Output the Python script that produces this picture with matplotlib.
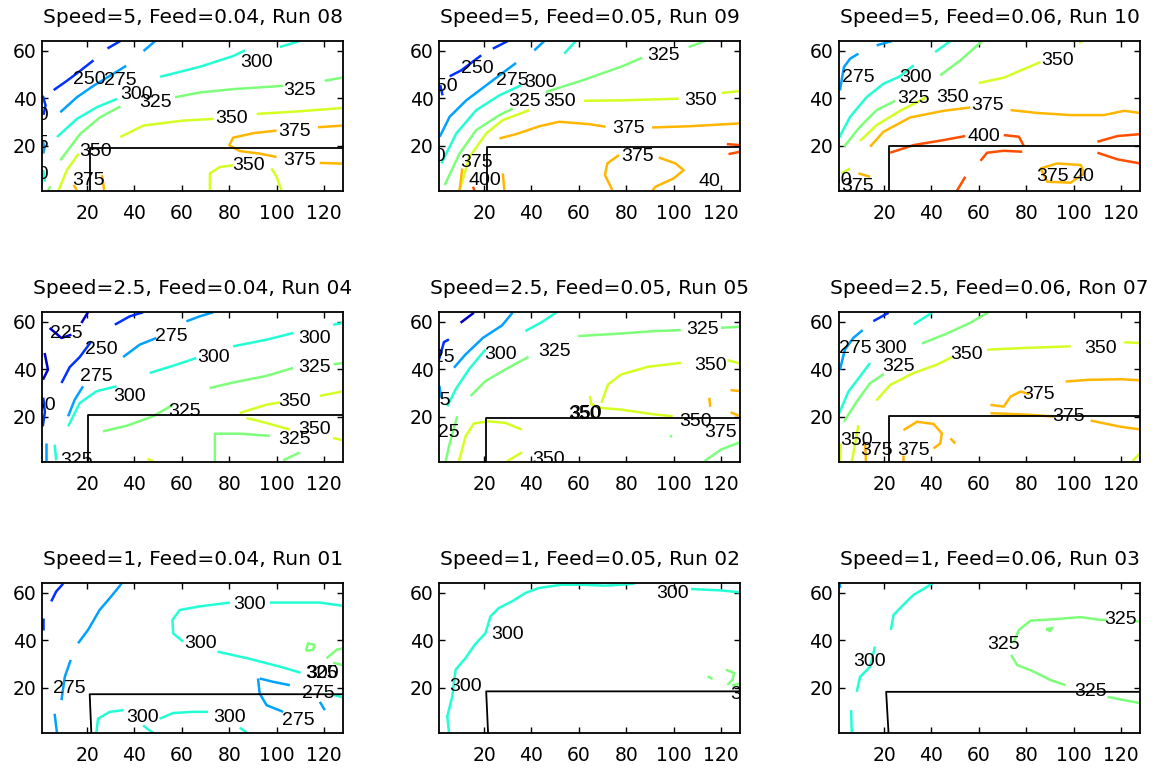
import numpy as np
import matplotlib
matplotlib.use("Agg")
import matplotlib.pyplot as plt
from matplotlib import colors

plt.rcParams['font.family'] = ['Liberation Sans', 'DejaVu Sans']

# titles in panel order (rows top to bottom, left to right)
titles = ["Speed=5, Feed=0.04, Run 08", "Speed=5, Feed=0.05, Run 09", "Speed=5, Feed=0.06, Run 10",
          "Speed=2.5, Feed=0.04, Run 04", "Speed=2.5, Feed=0.05, Run 05", "Speed=2.5, Feed=0.06, Ron 07",
          "Speed=1, Feed=0.04, Run 01", "Speed=1, Feed=0.05, Run 02", "Speed=1, Feed=0.06, Run 03"]

# notch outline per panel: x at top, x at bottom, y of horizontal edge
notches = [(21.3, 21.3, 19.2), (21.2, 21.2, 19.6), (21.9, 21.9, 19.9),
           (20.4, 20.4, 20.6), (20.9, 20.9, 19.3), (21.9, 21.9, 20.5),
           (21.1, 21.8, 17.3), (20.9, 21.7, 18.5), (20.9, 21.9, 18.3)]

# contour traces: (level, xs, ys)
run08_lines = [
    (250, [5.9, 11.5, 17.1, 22.7], [43.4, 47.3, 51.5, 55.9]),
    (250, [28.6, 34], [60.9, 64]),
    (250, [1.3, 2.5, 1.6], [41, 37, 33]),
    (275, [8.7, 15.7, 22.7, 29.8, 36.5], [34.1, 40.4, 45.2, 49.5, 53.6]),
    (275, [43.8, 48.7], [59.8, 64]),
    (275, [1.3, 2.0, 1.5], [22.3, 19, 16.7]),
    (300, [7.3, 15.7, 24.1, 32.6], [23.7, 31.3, 36.2, 39.7]),
    (300, [50.8, 67.6, 81.6, 86.6], [49, 53.2, 57.7, 60.1]),
    (300, [101.3, 109.7], [61.5, 64]),
    (300, [1.5, 2.2], [9.8, 4.9]),
    (325, [8.7, 17.1, 25.5, 34], [13.9, 25, 32, 36.5]),
    (325, [57.1, 67.6, 81.6, 102.7], [40.4, 42.4, 43.8, 45.2]),
    (325, [120.2, 128], [47.3, 48.7]),
    (325, [3.5, 4.5], [1, 3]),
    (350, [34, 43.8, 60.6, 73.2], [23.7, 28.5, 30.6, 31.3]),
    (350, [91.5, 109.7, 128], [33.4, 34.5, 35.9]),
    (350, [8, 11.5, 16.4], [1.4, 9.8, 16.7]),
    (350, [71.8, 71.8, 76, 81.6], [1.4, 8.4, 11.1, 11.8]),
    (350, [97.8, 99.9, 102], [10.5, 7, 1.4]),
    (375, [128, 117.4], [28.5, 27.8]),
    (375, [99.9, 90.1, 81.6, 80, 84.4, 92.9, 99.9], [26.4, 25.3, 23.4, 20.2, 17.8, 16.7, 15.3]),
    (375, [118.1, 128], [12.8, 12.5]),
    (375, [14.3, 15.7], [3.5, 1.4]),
    (375, [26.3, 27.2], [7.7, 1.4]),
]
run08_labels = [("250", 21, 48), ("275", 34, 47.3), ("300", 41, 41.5), ("325", 48.7, 38.3),
                ("300", 91.5, 55), ("325", 109.7, 43.1), ("350", 80.9, 31.3), ("375", 107.6, 25.8),
                ("375", 109.7, 13.9), ("350", 88, 11.8), ("350", 23.4, 17.4), ("375", 20.6, 5.6),
                ("300", -3, 32.7), ("275", -3, 21), ("300", -3, 8)]

run09_lines = [
    (250, [23.7, 30], [60.8, 64]),
    (250, [5.5, 10.4, 18.8], [49.2, 51.7, 58]),
    (250, [1.5, 2.5], [45.5, 41.2]),
    (275, [1.3, 5.5, 12.5, 20.9, 26.5, 33.5], [23.8, 32.2, 39.1, 45.4, 49.6, 54.8]),
    (275, [41.2, 45.4], [60.1, 64]),
    (300, [2, 8.3, 16.7, 26.5, 35.6], [12.6, 25.2, 35, 41.2, 45.4]),
    (300, [53.8, 58.7], [58.7, 64]),
    (325, [3.4, 9.7, 16.7, 26.5, 32.1], [3.5, 16.8, 26.6, 32.9, 35.6]),
    (325, [46.1, 61.5, 78.3, 86.7], [42.6, 47.5, 53.4, 57]),
    (325, [106.3, 113.3], [61.5, 64]),
    (350, [9.7, 13.9, 20.9, 27.9, 39.1], [1.4, 15.4, 25.2, 30.8, 35]),
    (350, [62.2, 78.3, 102.1], [38.9, 39.1, 39.8]),
    (350, [120.3, 128], [42.2, 43]),
    (375, [26.5, 33.5, 43.3, 51.7, 64.3, 71.3], [23.1, 24.9, 28.2, 30.1, 29.1, 28]),
    (375, [90.9, 106.3, 128], [27.7, 28.2, 29.4]),
    (375, [74.1, 71, 72, 76.9], [1.4, 7.7, 12.6, 16.1]),
    (375, [93.7, 100.7, 104.2, 100, 92.3, 90.9], [15.1, 12.6, 9.8, 6.3, 2.8, 1]),
    (375, [9.7, 10.8], [1.4, 10.5]),
    (375, [27.9, 28.6], [8.4, 1.2]),
    (400, [15.3, 16], [2.8, 1.2]),
    (400, [122.4, 128], [20.7, 20.3]),
    (400, [123.1, 128], [16.5, 17.5]),
]
run09_labels = [("250", 17, 52.3), ("250", 2, 45), ("275", 32.1, 47.5), ("300", 44, 46.8),
                ("325", 37, 38.4), ("350", 51.7, 38.4), ("325", 95.8, 58), ("350", 111.2, 39.1),
                ("375", 81.1, 27.3), ("375", 84.6, 15.4), ("375", 16.7, 12.9), ("400", 20.2, 5.6),
                ("300", -3, 15.4), ("40", 115, 5)]

run10_lines = [
    (275, [1.4, 3.1, 5.7, 9.2], [43.3, 53.1, 56.6, 58.7]),
    (275, [16.9, 23.3], [62.2, 64]),
    (300, [1.1, 5.7, 12.7, 19.8, 26.8, 32.5], [23.5, 32.2, 40.5, 46.1, 49.2, 53.8]),
    (300, [41.6, 48], [59.4, 64]),
    (325, [3.1, 9.9, 16.9, 24.7], [19.6, 28, 35, 38.9]),
    (325, [43.7, 52.2, 61.4], [49.6, 55.9, 64]),
    (350, [9.9, 16.9, 26.8, 38.1], [22.1, 28.7, 34.7, 40.5]),
    (350, [60, 70.5, 86], [46.4, 48.6, 55.2]),
    (350, [102.3, 103.7], [63.2, 64]),
    (350, [2.1, 5.7], [8.4, 10.5]),
    (375, [14.1, 19.8, 31, 45.1, 56.4], [19.6, 25.9, 31.9, 34.7, 36.1]),
    (375, [73.4, 84.6, 98.7, 112.8, 121.3, 128], [35, 33.8, 32.9, 32.9, 34.7, 33.8]),
    (375, [86, 93.1, 103, 104.4, 98.7, 88.9, 86], [10.5, 12.6, 11.9, 8.4, 4.5, 4.9, 10.5]),
    (375, [9.2, 14.1], [8.4, 7]),
    (400, [22.6, 32.5, 45.1, 54.3], [17.1, 20.3, 22.4, 24.1]),
    (400, [70.5, 76.9, 79], [24.5, 23.8, 19.9]),
    (400, [60.7, 63.5, 70.5, 78.3], [13.7, 17.1, 17.9, 17.5]),
    (400, [110, 118.5, 128], [21.7, 24.1, 24.9]),
    (400, [110, 118.5, 128], [17.1, 14.3, 12.6]),
    (400, [50.8, 54.3], [1.2, 7]),
]
run10_labels = [("275", 9.2, 48.6), ("300", 33.2, 48.9), ("325", 32.5, 39.8), ("350", 48.7, 40.5),
                ("375", 63.5, 37), ("400", 62.1, 23.8), ("350", 93.1, 55.9), ("375", 91, 7),
                ("40", 104, 7), ("350", -0.5, 5.6), ("375", 9, 3)]

run04_lines = [
    (225, [2.1, 3.5, 1.4], [46.8, 39.8, 35.6]),
    (225, [4.2, 9.2, 13.4], [57.3, 53.1, 54.5]),
    (225, [17.6, 20.4], [59.4, 64]),
    (250, [9.2, 12.7, 16.9, 21.8], [34.2, 40.9, 45.1, 51.7]),
    (250, [31.7, 38, 43.6], [58.7, 62.2, 63.9]),
    (250, [1.3, 2.2, 1.5], [16, 22, 28]),
    (275, [12, 14.8, 18.3], [20.2, 27.2, 32.8]),
    (275, [35.2, 42.2, 49.2], [45.1, 50.3, 53.1]),
    (275, [61.9, 67.5, 73.2], [60.1, 62.2, 63.9]),
    (275, [2.5, 2.5], [9, 1.3]),
    (300, [12, 16.9, 23.9, 32.4], [16, 25.8, 30.7, 32.8]),
    (300, [46.4, 57.7, 66.1], [38.4, 41.9, 44.7]),
    (300, [81.6, 95.7, 106.9], [49.6, 52.4, 55.2]),
    (300, [123.8, 128], [58.7, 59.4]),
    (300, [6.3, 7], [8.3, 1.7]),
    (325, [26.7, 36.6, 47.8, 56.3], [13.9, 16.2, 20.2, 25.1]),
    (325, [71.7, 81.6, 95.7, 106.9], [32.1, 34.4, 37.2, 40.5]),
    (325, [124, 128], [42, 42.6]),
    (325, [73.9, 73.9, 84.4, 97.1], [1.3, 12.9, 12.9, 12]),
    (325, [102.7, 109.7], [1.7, 5]),
    (350, [84.4, 95.7, 101.3], [21.6, 25.1, 26]),
    (350, [118.2, 128], [28.8, 30.7]),
    (350, [87.2, 95.7, 105.5], [19.5, 17.4, 14.6]),
    (350, [123.8, 128], [11.1, 10.1]),
    (350, [45.5, 48], [2.3, 1.3]),
]
run04_labels = [("225", 11.3, 55.2), ("250", 26, 48.2), ("275", 23.9, 37), ("275", 55.6, 53.8),
                ("300", 38, 28.6), ("300", 73.2, 44.7), ("300", 116, 53.1), ("325", 61.2, 22.3),
                ("325", 116, 40.5), ("350", 107.6, 26.5), ("350", 116, 14.6), ("325", 107.6, 10.4),
                ("250", 0, 24.8), ("325", 15.5, 1.5)]

run05_lines = [
    (225, [10.1, 15.7], [59.5, 63.7]),
    (250, [1, 3.1, 5.2], [44.1, 51.4, 52.5]),
    (275, [7.3, 12.2, 19.6, 27.6, 32], [40.6, 46.2, 53.2, 58.4, 63.7]),
    (275, [1.2, 1.8], [33, 28]),
    (300, [4.5, 8, 13.6, 20.6], [24.4, 31.5, 39.9, 48.3]),
    (300, [37.4, 44.4, 50.7], [56, 59.8, 64]),
    (325, [3.8, 5.2, 8.7], [1.3, 7.6, 20.2]),
    (325, [14.3, 20.6, 29, 38.8], [28.7, 35, 39.9, 45.2]),
    (325, [59.7, 77.9, 91.9, 103], [53.9, 55, 56, 56.4]),
    (325, [119.9, 128], [57.4, 57.8]),
    (325, [112.9, 119.9, 128], [1.3, 6.2, 9.3]),
    (325, [98.5, 99.2], [11.4, 12.2]),
    (350, [9.4, 12.2, 15.7, 22, 29, 36], [1.3, 11.8, 17.2, 18.1, 17.4, 14.6]),
    (350, [29.7, 36], [1.3, 5.1]),
    (350, [69.5, 72.3, 77.9, 89.1, 103.1], [25.9, 33.6, 37.8, 41, 42.7]),
    (350, [122.7, 128], [43.8, 42.4]),
    (350, [64.6, 65.3, 69.5, 77.9, 91.9, 99.6], [28.7, 25.2, 23.7, 23, 21, 20.2]),
    (375, [124, 128], [31.2, 30.8]),
    (375, [115, 115.4], [28, 24.2]),
    (375, [124, 128], [21.9, 20.2]),
]
run05_labels = [("225", 0.8, 45), ("275", -1, 27), ("300", 26.9, 46.2), ("325", 49.9, 47.6),
                ("325", 112.2, 56.7), ("350", 115.7, 41.6), ("350", 62.5, 21), ("350", 62.9, 21.3),
                ("350", 109.4, 18.1), ("375", 119.9, 13.2), ("325", 3, 13.2), ("350", 47, 2)]

run07_lines = [
    (250, [15.5, 21.9], [60.2, 63.7]),
    (275, [1.4, 3.5, 7.1, 11], [39.8, 48.2, 53.2, 56.4]),
    (300, [1.1, 5, 9.9, 14.1], [21.5, 30.6, 37, 42.6]),
    (300, [32.5, 40.2], [58.8, 63.7]),
    (325, [3.1, 8.5, 14.1, 20], [17.9, 26.4, 34.1, 38]),
    (325, [36, 46.6, 56.4, 64.2], [50.8, 55, 59.5, 64]),
    (350, [16.7, 22.6, 32.5, 42.3, 48.7], [26.8, 33.4, 38.4, 41.9, 45.1]),
    (350, [63.5, 79, 98.7], [48.2, 48.9, 49.6]),
    (350, [121.3, 128], [51.3, 51]),
    (350, [1.4, 1.8], [1, 8.8]),
    (350, [9.2, 6.4], [16.5, 1]),
    (350, [124.8, 128], [1.5, 4.6]),
    (375, [96.6, 105.8, 119.9, 128], [34.8, 35.5, 35.8, 35.3]),
    (375, [64.9, 70.5, 73.4, 77.6, 81.1], [25, 24.3, 28.5, 30.6, 29.6]),
    (375, [64.9, 73.4, 81.8, 91.7], [21.5, 21.2, 20.8, 20.1]),
    (375, [107.2, 119.9, 128], [18.4, 15.8, 14.7]),
    (375, [12, 12.4], [8.8, 1]),
    (375, [28.2, 28.2], [3.9, 1]),
    (375, [28.2, 33.9, 40.9, 44.4, 43.7, 40.9], [14.4, 17.9, 17, 13, 8.8, 6.7]),
    (375, [48, 50.1], [10.9, 8.8]),
]
run07_labels = [("275", 7.8, 48.9), ("300", 22.6, 48.9), ("325", 26.1, 41.2), ("350", 55, 46.1),
                ("350", 111.4, 48.9), ("375", 85.3, 29.2), ("375", 98, 20.1), ("350", 8.5, 10.2),
                ("375", 16.9, 6), ("375", 32.5, 6)]

run01_lines = [
    (250, [4.9, 7, 9.9], [56.3, 60.5, 63.7]),
    (250, [1.4, 1.4], [49.2, 44.3]),
    (275, [16.2, 20.4, 25.3, 29.6, 34.5], [38.7, 44.3, 52.7, 57.7, 63.7]),
    (275, [13.1, 10.6, 9.2], [31.7, 24.6, 14.8]),
    (275, [6.3, 7.3], [9.1, 1]),
    (275, [92.1, 92.8, 95.7, 102.7], [23.9, 17.6, 12.7, 9.9]),
    (275, [92.8, 98.5, 105.5], [23.9, 22.5, 21.1]),
    (275, [118.2, 120.3], [14.1, 10.6]),
    (300, [128, 118.2, 102.7, 97.1], [54.4, 55.8, 55.8, 55.8]),
    (300, [80.2, 67.5, 59.1, 56, 56.3, 60.5], [55.8, 54.2, 52.7, 48.5, 42.9, 39.4]),
    (300, [75, 87.6, 101.7, 110.1], [35.2, 32.4, 28.8, 26.3]),
    (300, [23.9, 24.6, 29.6, 35.2], [1, 7, 9.9, 10.6]),
    (300, [50.6, 56.3, 64.7, 71], [7, 9.4, 9.9, 9.9]),
    (300, [84.4, 87.2], [3.2, 1.3]),
    (300, [43.6, 47.8], [4.2, 1]),
    (300, [124, 128], [17, 16]),
    (325, [112.3, 113.2, 116, 115.3, 112.3], [35.6, 38.7, 38, 35.9, 35.6]),
    (325, [121, 125.2, 128], [32.4, 35.9, 36.6]),
    (325, [123.8, 128], [30.5, 29.5]),
]
run01_labels = [("275", 12.7, 19.7), ("300", 88.6, 54.9), ("300", 68, 38.4), ("300", 43.6, 7.7),
                ("300", 80.2, 7.7), ("275", 109, 6.3), ("275", 117.5, 17.6), ("325", 118.9, 26),
                ("300", 119.5, 26)]

run02_lines = [
    (300, [5.2, 4.5, 6.6, 8, 12.2, 16.1, 20.6, 22.7, 26.2, 31.8, 37.4, 43, 52.7, 61.1, 71, 83.5],
     [1.3, 8, 16.4, 27.6, 32.5, 38.1, 43, 50, 53.5, 56.3, 59.8, 61.9, 63.3, 63.3, 62.9, 63.7]),
    (300, [107.3, 119.9, 128], [61.5, 60.9, 60.1]),
    (325, [114.3, 116.4], [24.8, 23.7]),
    (325, [122, 125.5, 124.8, 122.7], [27.6, 26.2, 23.4, 21.3]),
    (325, [124.5, 128], [21, 21.7]),
]
run02_labels = [("300", 99.6, 59.8), ("300", 29.7, 42.3), ("300", 12.2, 20.6), ("325", 130.7, 17)]

run03_lines = [
    (275, [1.2, 1.6], [64, 62]),
    (300, [6.4, 6.1], [1, 10.6]),
    (300, [8.5, 9.9, 14.1, 16.2], [18.3, 24.6, 28.8, 37.3]),
    (300, [22.9, 24, 28.2, 32.5, 36.7, 40.5], [44.3, 50.6, 54.9, 59.1, 61.5, 64]),
    (325, [114, 111.4, 102.9, 91.7, 81.8, 76.9, 74.5], [48.5, 48.5, 49.7, 48.8, 48.2, 44.3, 38.7]),
    (325, [73.6, 76.2, 81.8, 90.3, 96.6], [33.8, 29.5, 27.4, 23.2, 21.1]),
    (325, [114.3, 121.3, 128], [16.2, 14.8, 13.6]),
    (325, [126, 128], [48, 47.8]),
    (325, [88.4, 91, 90, 88.4], [44.6, 45.2, 43.8, 44.6]),
]
run03_labels = [("300", 14.1, 31), ("325", 70.5, 38), ("325", 119.9, 48.5), ("325", 107.2, 18.3)]

all_lines = [run08_lines, run09_lines, run10_lines, run04_lines, run05_lines, run07_lines,
             run01_lines, run02_lines, run03_lines]
all_labels = [run08_labels, run09_labels, run10_labels, run04_labels, run05_labels, run07_labels,
              run01_labels, run02_labels, run03_labels]

norm = colors.Normalize(vmin=210, vmax=440)
cmap = matplotlib.colormaps['jet']

fig = plt.figure(figsize=(11.58, 7.69), dpi=100)
lefts = [0.0363, 0.3791, 0.7245]
bottoms = [0.7516, 0.3992, 0.0468]

for k in range(9):
    r, c = divmod(k, 3)
    ax = fig.add_axes([lefts[c], bottoms[r], 0.26, 0.195])
    for lev, xs, ys in all_lines[k]:
        ax.plot(xs, ys, color=cmap(norm(lev)), lw=1.8, solid_capstyle='butt')
    for txt, x, y in all_labels[k]:
        ax.text(x, y, txt, fontsize=14, ha='center', va='center', clip_on=True)
    xt, xb, yn = notches[k]
    ax.plot([xb, xt, 128], [1, yn, yn], color='k', lw=1.3)
    ax.set_xlim(1, 128)
    ax.set_ylim(1, 64)
    ax.set_xticks([20, 40, 60, 80, 100, 120])
    ax.set_yticks([20, 40, 60])
    ax.tick_params(direction='in', top=True, right=True, length=4, width=1, labelsize=13.5)
    ax.tick_params(axis='x', pad=9)
    ax.tick_params(axis='y', pad=4)
    for lab in ax.get_xticklabels() + ax.get_yticklabels():
        lab.set_family('DejaVu Sans')
    for s in ax.spines.values():
        s.set_linewidth(1.3)
    ax.set_title(titles[k], fontsize=14.5, pad=13, family='DejaVu Sans')

fig.savefig("out.png", dpi=100)
